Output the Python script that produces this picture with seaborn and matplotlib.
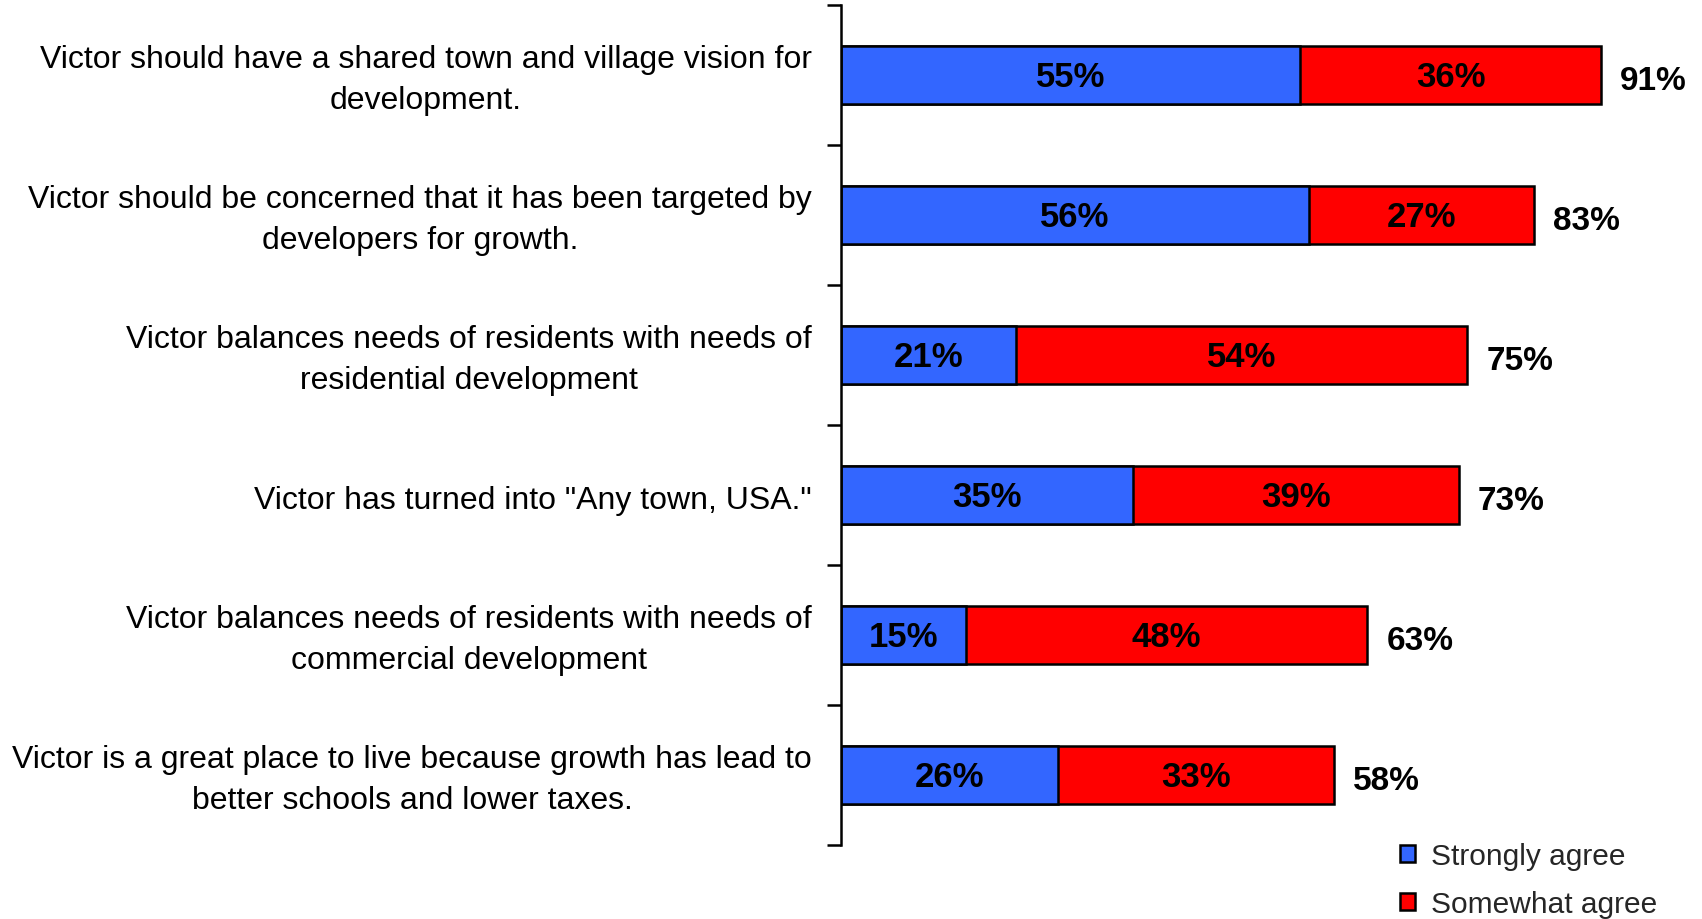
import matplotlib
matplotlib.use('Agg')
import matplotlib.pyplot as plt
import seaborn as sns
import pandas as pd
from matplotlib.patches import Patch
from matplotlib.ticker import FixedLocator

categories = [
    "Victor should have a shared town and village vision for\ndevelopment.",
    "Victor should be concerned that it has been targeted by\ndevelopers for growth.",
    "Victor balances needs of residents with needs of\nresidential development",
    "Victor has turned into \"Any town, USA.\"",
    "Victor balances needs of residents with needs of\ncommercial development",
    "Victor is a great place to live because growth has lead to\nbetter schools and lower taxes.",
]
strongly_agree = [55, 56, 21, 35, 15, 26]
somewhat_agree = [36, 27, 54, 39, 48, 33]
total_labels = [91, 83, 75, 73, 63, 58]
series_names = ["Strongly agree", "Somewhat agree"]
colors = ["#3366FF", "#FF0000"]

sns.set_theme(style="white")
plt.rcParams['font.family'] = ['Liberation Sans', 'DejaVu Sans']

df = pd.DataFrame({"cat": categories, "strong": strongly_agree, "some": somewhat_agree})
df["stack"] = df["strong"] + df["some"]

fig = plt.figure(figsize=(17.02, 9.2), dpi=100)
ax = fig.add_axes([841 / 1702, 1 - 846 / 920, 1 - 841 / 1702, 840 / 920])

sns.barplot(data=df, x="stack", y="cat", color=colors[1], saturation=1, width=0.41,
            edgecolor="black", linewidth=1.8, ax=ax)
sns.barplot(data=df, x="strong", y="cat", color=colors[0], saturation=1, width=0.41,
            edgecolor="black", linewidth=1.8, ax=ax)

for i, (s, m, st, tot) in enumerate(zip(df["strong"], df["some"], df["stack"], total_labels)):
    ax.text(s / 2, i + 0.01, f"{s}%", ha="center", va="center", fontsize=25, fontweight="bold", color="black")
    ax.text(s + m / 2, i + 0.01, f"{m}%", ha="center", va="center", fontsize=25, fontweight="bold", color="black")
    ax.text(st + 2.3, i + 0.04, f"{tot}%", ha="left", va="center", fontsize=24, fontweight="bold", color="black")

# category labels
ylab_tr = ax.get_yaxis_transform()
for i, cat in enumerate(categories):
    dy = 0.033 if "\n" in cat else 0.038
    ax.text(-29 / 861, i + dy, cat, transform=ylab_tr, ha="right", va="center",
            multialignment="center", linespacing=1.48, fontsize=23, color="black")

ax.set_xlim(0, (1702 - 841) / 8.35)
ax.set_ylim(len(categories) - 0.5, -0.5)
ax.set_xlabel("")
ax.set_ylabel("")
ax.set_xticks([])
ax.set_yticks(range(len(categories)))
ax.set_yticklabels([""] * len(categories))
for sp in ["top", "right", "bottom"]:
    ax.spines[sp].set_visible(False)
ax.spines["left"].set_color("black")
ax.spines["left"].set_linewidth(1.8)

ax.yaxis.set_minor_locator(FixedLocator([i - 0.5 for i in range(len(categories) + 1)]))
ax.tick_params(axis="y", which="major", left=False, length=0)
ax.tick_params(axis="y", which="minor", left=True, length=10, width=1.8, color="black", direction="out")

handles = [Patch(facecolor=c, edgecolor="black", linewidth=1.8) for c in colors]
fig.legend(handles=handles, labels=series_names, loc="upper left",
           bbox_to_anchor=(1400 / 1702, 1 - 843 / 920), frameon=False, fontsize=21.5,
           handlelength=0.5, handleheight=0.5, handletextpad=0.55, labelspacing=0.68,
           borderpad=0, borderaxespad=0)

fig.savefig("out.png", dpi=100)
